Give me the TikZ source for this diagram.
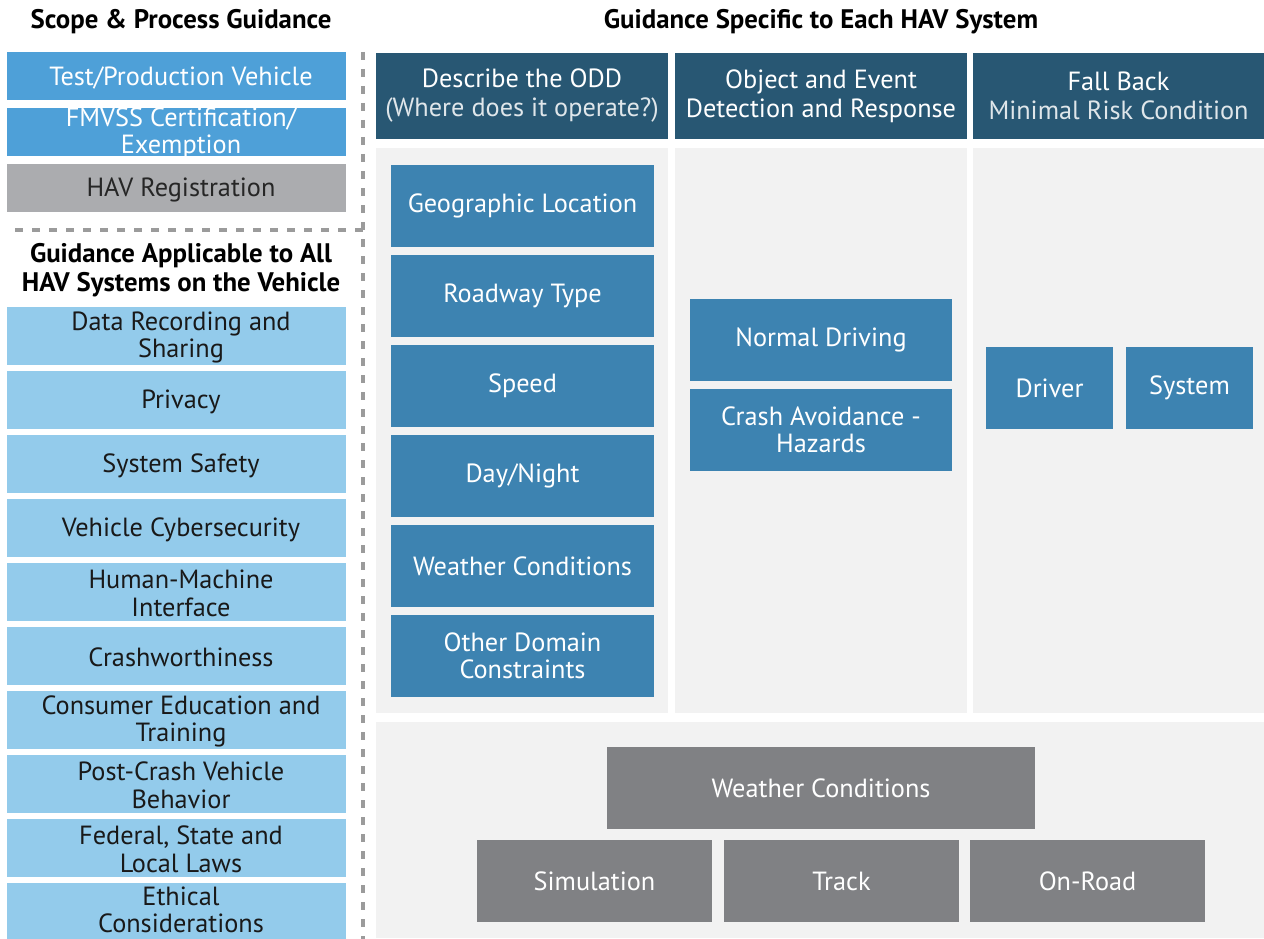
\documentclass[tikz,border=0pt]{standalone}
\usepackage{fontspec}
\setmainfont{PT Sans}
\definecolor{topblue}{HTML}{4EA0D8}
\definecolor{havgrey}{HTML}{ABACAF}
\definecolor{lightblue}{HTML}{93CBEB}
\definecolor{header}{HTML}{285773}
\definecolor{oddblue}{HTML}{3D83B1}
\definecolor{panel}{HTML}{F2F2F2}
\definecolor{btmgrey}{HTML}{808184}
\definecolor{dashgrey}{HTML}{9B9B9B}
\newcommand{\fsz}{\fontsize{26.3}{27.5}\selectfont}
\newcommand{\hsz}{\fontsize{26.3}{29}\selectfont}
\newcommand{\lightline}[1]{\textcolor{white!85!header}{#1}}
\tikzset{
  box/.style={rectangle, inner sep=0pt, align=center, font=\fsz},
  lefttxt/.style={inner sep=0pt, align=center, font=\fsz},
  topb/.style={box, fill=topblue, minimum width=339pt, minimum height=48pt},
  havb/.style={box, fill=havgrey, minimum width=339pt, minimum height=48pt},
  lbb/.style={box, fill=lightblue, minimum width=339pt, minimum height=58pt},
  hdr/.style={box, font=\hsz, fill=header, text=white, minimum width=292pt, minimum height=86pt},
  pnl/.style={rectangle, inner sep=0pt, fill=panel},
  oddb/.style={box, fill=oddblue, text=white, minimum height=82pt},
  btmb/.style={box, fill=btmgrey, text=white, minimum height=82pt},
  ttl/.style={inner sep=0pt, align=center, font=\fontsize{26.8}{29}\selectfont\bfseries},
  dashline/.style={draw=dashgrey, line width=4pt, dash pattern=on 8pt off 9pt}
}
% left column box: name, style, y, height-free text, text colour
\newcommand{\leftbox}[5]{%
  \node[#2] (#1) at (176.5,#3) {};
  \node[lefttxt, text=#5] (#1-t) at ([xshift=4.5pt,yshift=-1.5pt]#1.center) {#4};
}
\begin{document}
\begin{tikzpicture}[x=1pt,y=-1pt]
\useasboundingbox (0,0) rectangle (1264,939);
\fill[white] (0,0) rectangle (1264,939);
% titles
\node[ttl] (t1) at (181,22) {Scope \& Process Guidance};
\node[ttl] (t2) at (821,22) {Guidance Specific to Each HAV System};
\node[ttl] (t3) at (181,270) {Guidance Applicable to All\\HAV Systems on the Vehicle};
% left top boxes
\leftbox{tpv}{topb}{76}{Test/Production Vehicle}{white}
\leftbox{fmv}{topb}{132}{\fontsize{26.3}{22}\selectfont FMVSS Certification/\\Exemption}{white}
\leftbox{hav}{havb}{188}{HAV Registration}{black!85}
% light blue list
\leftbox{l1}{lbb}{336}{Data Recording and\\Sharing}{black!90}
\leftbox{l2}{lbb}{400}{Privacy}{black!90}
\leftbox{l3}{lbb}{464}{System Safety}{black!90}
\leftbox{l4}{lbb}{528}{Vehicle Cybersecurity}{black!90}
\leftbox{l5}{lbb}{592}{Human-Machine\\Interface}{black!90}
\leftbox{l6}{lbb}{656}{Crashworthiness}{black!90}
\leftbox{l7}{lbb}{720}{Consumer Education and\\Training}{black!90}
\leftbox{l8}{lbb}{784}{Post-Crash Vehicle\\Behavior}{black!90}
\leftbox{l9}{lbb}{848}{Federal, State and\\Local Laws}{black!90}
\node[lbb] (l10) at (176.5,912) {};
\node[lefttxt, text=black!90] (l10-t) at (181,910) {Ethical\\Considerations};
% dashed separators
\coordinate (vtop) at (363,52);
\coordinate (vbot) at (363,939);
\coordinate (hl) at (15,230);
\coordinate (hr) at (363,230);
\draw[dashline] (vtop) -- (vbot);
\draw[dashline] (hl) -- (hr);
% headers
\node[hdr] (h1) at (522,96) {Describe the ODD\\\lightline{(Where does it operate?)}};
\node[hdr] (h2) at (821,96) {Object and Event\\Detection and Response};
\node[hdr, minimum width=291pt] (h3) at (1118.5,96) {Fall Back\\\lightline{Minimal Risk Condition}};
% panels
\node[pnl, minimum width=292pt, minimum height=565pt] (p1) at (522,430.5) {};
\node[pnl, minimum width=292pt, minimum height=565pt] (p2) at (821,430.5) {};
\node[pnl, minimum width=291pt, minimum height=565pt] (p3) at (1118.5,430.5) {};
\node[pnl, minimum width=888pt, minimum height=216pt] (p4) at (820,830) {};
% ODD boxes
\node[oddb, minimum width=263pt] (o1) at (522.5,206) {Geographic Location};
\node[oddb, minimum width=263pt] (o2) at (522.5,296) {Roadway Type};
\node[oddb, minimum width=263pt] (o3) at (522.5,386) {Speed};
\node[oddb, minimum width=263pt] (o4) at (522.5,476) {Day/Night};
\node[oddb, minimum width=263pt] (o5) at (522.5,566) {Weather Conditions};
\node[oddb, minimum width=263pt] (o6) at (522.5,656) {Other Domain\\Constraints};
% OEDR boxes
\node[oddb, minimum width=262pt] (e1) at (821,340) {Normal Driving};
\node[oddb, minimum width=262pt] (e2) at (821,430) {Crash Avoidance -\\Hazards};
% fall back boxes
\node[oddb, minimum width=127pt] (f1) at (1049.5,388) {Driver};
\node[oddb, minimum width=127pt] (f2) at (1189.5,388) {System};
% bottom testing boxes
\node[btmb, minimum width=428pt] (b1) at (821,788) {Weather Conditions};
\node[btmb, minimum width=235pt] (b2) at (594.5,881) {Simulation};
\node[btmb, minimum width=235pt] (b3) at (841.5,881) {Track};
\node[btmb, minimum width=235pt] (b4) at (1087.5,881) {On-Road};
\end{tikzpicture}
\end{document}
